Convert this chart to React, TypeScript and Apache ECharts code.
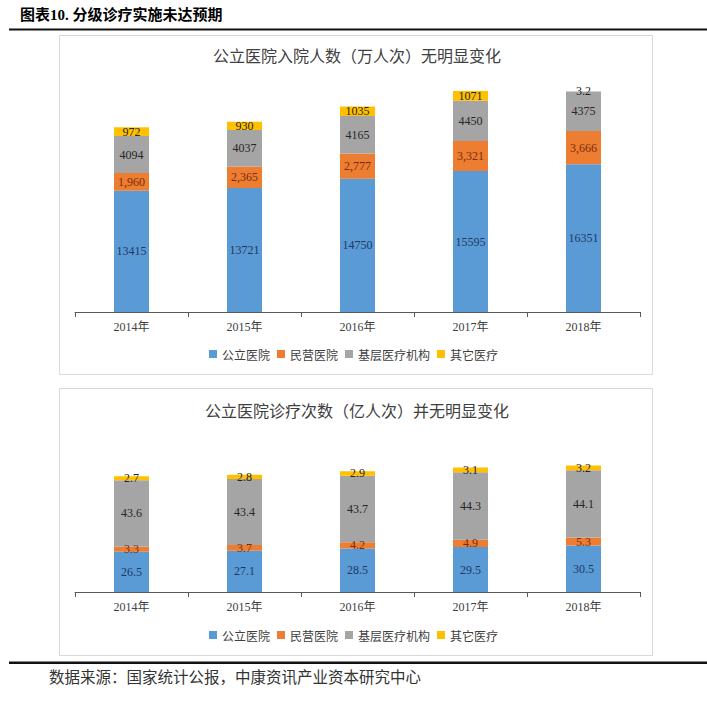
import React, { useEffect, useRef } from "react";
import * as echarts from "echarts";

const years = ["2014年", "2015年", "2016年", "2017年", "2018年"];
const seriesNames = ["公立医院", "民营医院", "基层医疗机构", "其它医疗"];

// Chart 1: 入院人数（万人次）
const admPublic = [13415, 13721, 14750, 15595, 16351];
const admPrivate = [1960, 2365, 2777, 3321, 3666];
const admPrimary = [4094, 4037, 4165, 4450, 4375];
const admOther = [972, 930, 1035, 1071, 3.2];

// Chart 2: 诊疗次数（亿人次）
const visPublic = [26.5, 27.1, 28.5, 29.5, 30.5];
const visPrivate = [3.3, 3.7, 4.2, 4.9, 5.3];
const visPrimary = [43.6, 43.4, 43.7, 44.3, 44.1];
const visOther = [2.7, 2.8, 2.9, 3.1, 3.2];

const colors = ["#5B9BD5", "#ED7D31", "#A5A5A5", "#FFC000"];
const labelColors = ["#1F3864", "#7B2C0C", "#262626", "#262626"];

const SERIF = '"Liberation Serif", "Times New Roman", "Noto Sans CJK SC", serif';
const CJK = '"Noto Sans CJK SC", "Liberation Serif", serif';

export default function App() {
  const ref = useRef<HTMLDivElement>(null);

  useEffect(() => {
    if (!ref.current) return;
    const chart = echarts.init(ref.current, undefined, { renderer: "svg" });

    const fmtComma = (v: number) => v.toLocaleString("en-US");

    const mkSeries = (
      data: number[],
      idx: number,
      gridIdx: number,
      stack: string,
      fmt?: (v: number) => string
    ) => ({
      type: "bar",
      name: seriesNames[idx],
      stack,
      xAxisIndex: gridIdx,
      yAxisIndex: gridIdx,
      data,
      barWidth: 35,
      itemStyle: { color: colors[idx] },
      label: {
        show: true,
        position: "inside",
        color: labelColors[idx],
        fontFamily: SERIF,
        fontSize: 12,
        formatter: (p: any) => (fmt ? fmt(p.value) : String(p.value)),
      },
    });

    const xAxisCommon = {
      type: "category",
      data: years,
      axisLine: { lineStyle: { color: "#595959", width: 1 } },
      axisTick: { show: true, length: 5, lineStyle: { color: "#595959" } },
      axisLabel: { color: "#404040", fontSize: 12, fontFamily: SERIF, margin: 9 },
    };
    const yAxisCommon = {
      type: "value",
      show: false,
      splitLine: { show: false },
    };

    const legendCommon = {
      data: seriesNames,
      icon: "rect",
      itemWidth: 8,
      itemHeight: 8,
      itemGap: 7,
      left: "center",
      textStyle: { color: "#404040", fontSize: 12, fontFamily: CJK },
      selectedMode: false,
    };

    chart.setOption({
      animation: false,
      backgroundColor: "#ffffff",
      grid: [
        { left: 75, top: 86, width: 565, height: 226 },
        { left: 75, top: 455, width: 565, height: 137 },
      ],
      xAxis: [
        { ...xAxisCommon, gridIndex: 0 },
        { ...xAxisCommon, gridIndex: 1 },
      ],
      yAxis: [
        { ...yAxisCommon, gridIndex: 0, min: 0, max: 25000 },
        { ...yAxisCommon, gridIndex: 1, min: 0, max: 90 },
      ],
      legend: [
        { ...legendCommon, top: 343 },
        { ...legendCommon, top: 624 },
      ],
      series: [
        mkSeries(admPublic, 0, 0, "a"),
        mkSeries(admPrivate, 1, 0, "a", fmtComma),
        mkSeries(admPrimary, 2, 0, "a"),
        mkSeries(admOther, 3, 0, "a"),
        mkSeries(visPublic, 0, 1, "b"),
        mkSeries(visPrivate, 1, 1, "b"),
        mkSeries(visPrimary, 2, 1, "b"),
        mkSeries(visOther, 3, 1, "b"),
      ],
      graphic: [
        {
          type: "text",
          left: 20,
          top: 7,
          style: {
            text: "图表10. 分级诊疗实施未达预期",
            fill: "#000000",
            font: 'bold 15px "Liberation Serif", "Noto Sans CJK SC", serif',
          },
        },
        {
          type: "rect",
          shape: { x: 9, y: 28.5, width: 698, height: 2 },
          style: { fill: "#111111" },
        },
        {
          type: "rect",
          shape: { x: 59.5, y: 35.5, width: 593, height: 339 },
          style: { fill: "none", stroke: "#D9D9D9", lineWidth: 1 },
          z: -1,
        },
        {
          type: "rect",
          shape: { x: 59.5, y: 388.5, width: 593, height: 267 },
          style: { fill: "none", stroke: "#D9D9D9", lineWidth: 1 },
          z: -1,
        },
        {
          type: "text",
          x: 357,
          y: 55,
          style: {
            text: "公立医院入院人数（万人次）无明显变化",
            fill: "#404040",
            font: '16px "Noto Sans CJK SC", serif',
            textAlign: "center",
            textVerticalAlign: "middle",
          },
        },
        {
          type: "text",
          x: 357,
          y: 410,
          style: {
            text: "公立医院诊疗次数（亿人次）并无明显变化",
            fill: "#404040",
            font: '16px "Noto Sans CJK SC", serif',
            textAlign: "center",
            textVerticalAlign: "middle",
          },
        },
        {
          type: "rect",
          shape: { x: 9, y: 661.5, width: 698, height: 2.5 },
          style: { fill: "#111111" },
        },
        {
          type: "text",
          left: 49,
          top: 668,
          style: {
            text: "数据来源：国家统计公报，中康资讯产业资本研究中心",
            fill: "#333333",
            font: '15.5px "Noto Sans CJK SC", serif',
          },
        },
      ],
    });

    return () => chart.dispose();
  }, []);

  return (
    <div
      ref={ref}
      style={{ position: "absolute", left: 0, top: 0, width: 707, height: 704 }}
    />
  );
}
